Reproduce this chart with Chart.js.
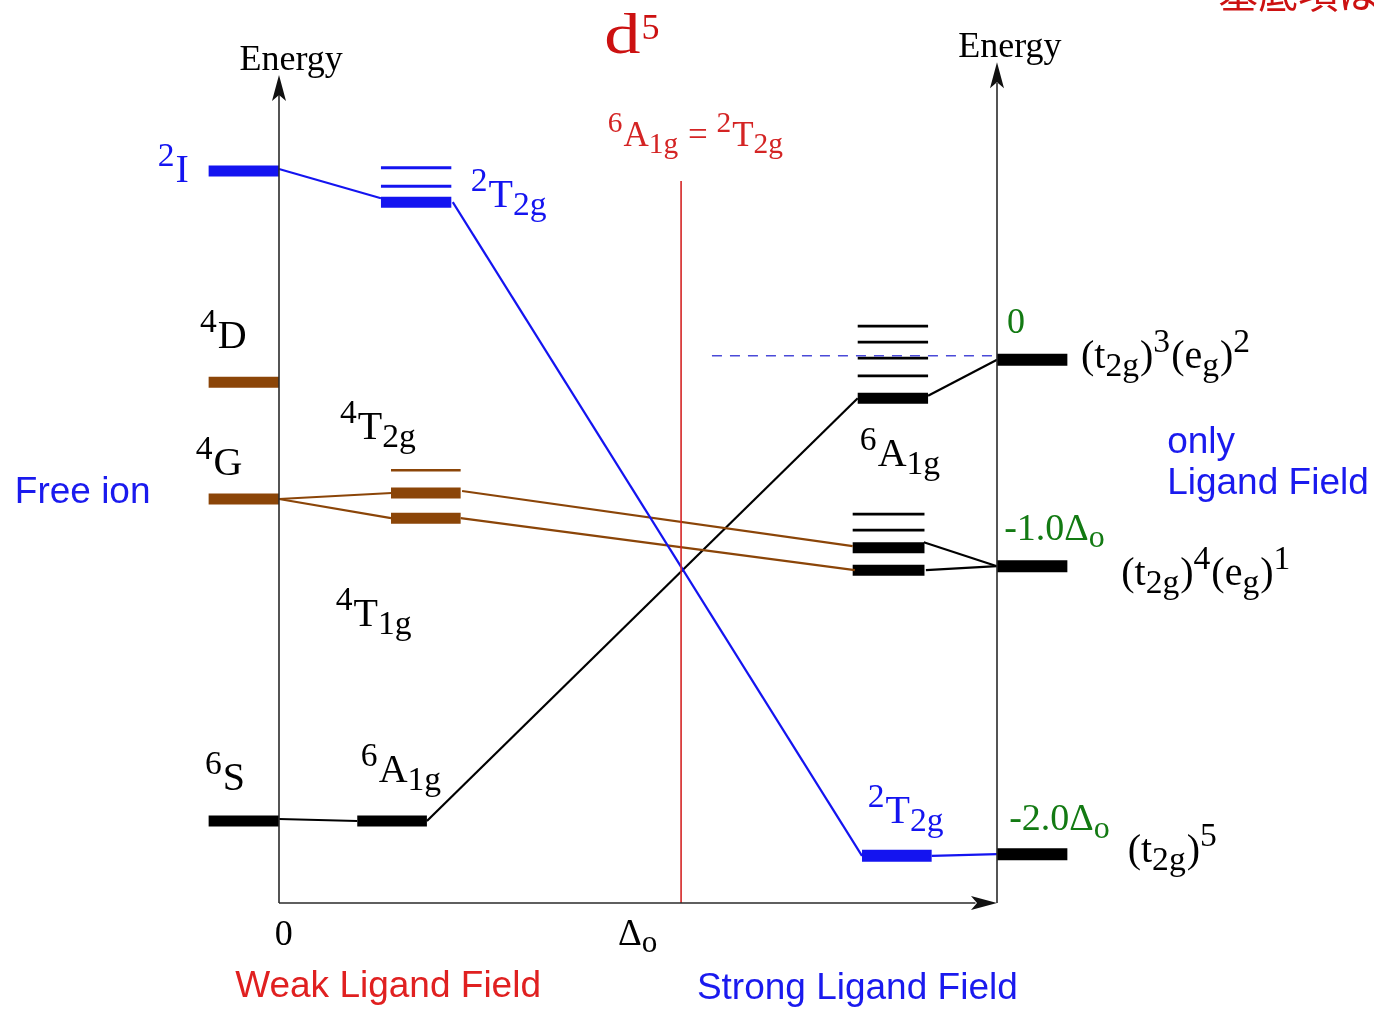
<!DOCTYPE html>
<html>
<head>
<meta charset="utf-8">
<script src="https://cdn.jsdelivr.net/npm/chart.js@4.4.0/dist/chart.umd.min.js"></script>
<style>
  html, body { margin: 0; padding: 0; background: #fff; }
  #wrap { width: 1374px; height: 1009px; }
</style>
</head>
<body>
<div id="wrap"><canvas id="diagram"></canvas></div>
<script>
// x = ligand field strength (0 = free ion axis, 100 = strong field limit axis)
// y = energy, arbitrary units

// free ion terms (left of the x = 0 axis)
const freeIonTerms  = ['2I', '4D', '4G', '6S'];
const freeIonEnergy = [91.5, 65.1, 50.5, 10.25];
const freeIonX      = [-9.8, 0];

// weak field states
const weakDoubletE = [91.9, 89.6, 87.6];   // 2T2g, last one is traced
const weakDoubletX = [14.2, 24.0];
const weakQuartetE = [54.1, 51.25, 48.1];  // 4T2g / 4T1g
const weakQuartetX = [15.6, 25.3];
const weakSextetE  = [10.25];              // 6A1g
const weakSextetX  = [10.9, 20.6];

// strong field states
const strongUpperE = [72.1, 70.1, 68.1, 65.9, 63.1]; // last one = 6A1g
const strongUpperX = [80.6, 90.4];
const strongMidE   = [48.6, 46.6, 44.4, 41.6];
const strongMidX   = [79.9, 89.9];
const strongLowE   = [5.9];                           // 2T2g
const strongLowX   = [81.2, 90.9];

// strong field limit configurations (right axis)
const configLabels = ['(t2g)3(eg)2', '(t2g)4(eg)1', '(t2g)5'];
const configEnergy = [67.9, 42.1, 6.1];
const configDelta  = ['0', '-1.0Δo', '-2.0Δo'];
const configX      = [100, 109.8];

// correlation lines [x0, E0, x1, E1]
const blueLinks  = [[0, 91.75, 14.2, 88.1], [24.2, 87.6, 81.2, 5.9], [90.9, 5.9, 100, 6.1]];
const brownLinks = [[0, 50.5, 15.7, 51.25], [0, 50.5, 15.6, 48.1], [25.5, 51.5, 79.9, 44.6], [25.3, 48.1, 80.2, 41.6]];
const blackLinks = [[0, 10.5, 10.9, 10.25], [20.6, 10.25, 80.6, 63.1], [90.4, 63.4, 100, 67.9],
                    [89.8, 45.1, 100, 42.1], [90.1, 41.6, 100, 42.1]];
const crossingX  = 56;      // 6A1g = 2T2g
const crossingTop = 90.25;
const zeroDashX  = [60.3, 100];
const zeroDashE  = 68.4;

const BLUE = '#1414f0', BROWN = '#8b4508', BLACK = '#000000', RED = '#d42424', GREEN = '#137a13', AXIS = '#2a2a2a';

const datasets = [];
function seg(x0, e0, x1, e1, color, w, dash) {
  datasets.push({
    data: [{x: x0, y: e0}, {x: x1, y: e1}],
    borderColor: color, borderWidth: w, borderDash: dash || [],
    borderCapStyle: 'butt', pointRadius: 0, fill: false, tension: 0
  });
}
function levels(xr, es, color, mainIdx, thick, thin) {
  es.forEach((e, i) => seg(xr[0], e, xr[1], e, color, mainIdx.includes(i) ? thick : thin));
}

// axes
seg(0, 0, 0, 101, AXIS, 1.6);
seg(100, 0, 100, 102.5, AXIS, 1.6);
seg(0, 0, 97, 0, AXIS, 1.6);
// crossing line + zero reference
seg(crossingX, 0, crossingX, crossingTop, RED, 1.6);
seg(zeroDashX[0], zeroDashE, zeroDashX[1], zeroDashE, '#4a4ad8', 1.5, [10, 8]);

// links
blueLinks.forEach(l => seg(l[0], l[1], l[2], l[3], BLUE, 2.2));
brownLinks.forEach(l => seg(l[0], l[1], l[2], l[3], BROWN, 2.2));
blackLinks.forEach(l => seg(l[0], l[1], l[2], l[3], BLACK, 2.2));

// level bars
freeIonEnergy.forEach((e, i) => seg(freeIonX[0], e, freeIonX[1], e, i === 0 ? BLUE : (i === 3 ? BLACK : BROWN), 11));
levels(weakDoubletX, weakDoubletE, BLUE, [2], 11, 3);
levels(weakQuartetX, weakQuartetE, BROWN, [1, 2], 11, 2.5);
levels(weakSextetX, weakSextetE, BLACK, [0], 11, 3);
levels(strongUpperX, strongUpperE, BLACK, [4], 11, 2.8);
levels(strongMidX, strongMidE, BLACK, [2, 3], 11, 2.8);
levels(strongLowX, strongLowE, BLUE, [0], 12, 3);
levels(configX, configEnergy, BLACK, [0, 1, 2], 12, 3);

// text annotations: {^sup} {_sub}
const SERIF = '"Liberation Serif", "Times New Roman", serif';
const SANS = '"Liberation Sans", Arial, sans-serif';
const labels = [
  {t: '{^2}I', x: -16.9, y: 90.1, c: BLUE},
  {t: '{^2}T{_2g}', x: 26.7, y: 87.0, c: BLUE},
  {t: '{^4}D', x: -11.0, y: 69.4, c: BLACK},
  {t: '{^4}G', x: -11.6, y: 53.5, c: BLACK},
  {t: '{^4}T{_2g}', x: 8.5, y: 58.0, c: BLACK},
  {t: '{^4}T{_1g}', x: 7.9, y: 34.6, c: BLACK},
  {t: '{^6}S', x: -10.3, y: 14.1, c: BLACK},
  {t: '{^6}A{_1g}', x: 11.4, y: 15.1, c: BLACK},
  {t: '{^6}A{_1g}', x: 80.9, y: 54.6, c: BLACK},
  {t: '{^2}T{_2g}', x: 82.0, y: 10.0, c: BLUE},
  {t: '(t{_2g}){^3}(e{_g}){^2}', x: 111.7, y: 66.9, c: BLACK},
  {t: '(t{_2g}){^4}(e{_g}){^1}', x: 117.3, y: 39.75, c: BLACK},
  {t: '(t{_2g}){^5}', x: 118.2, y: 5.1, c: BLACK},
  {t: configDelta[0], x: 101.4, y: 71.25, c: GREEN, s: 36},
  {t: '-1.0Δ{_o}', x: 101.0, y: 45.4, c: GREEN, s: 38},
  {t: '-2.0Δ{_o}', x: 101.7, y: 9.1, c: GREEN, s: 38},
  {t: '0', x: -0.6, y: -5.25, c: BLACK, s: 36},
  {t: 'Δ{_o}', x: 47.2, y: -5.25, c: BLACK, s: 37},
  {t: '{^6}A{_1g} = {^2}T{_2g}', x: 45.8, y: 94.6, c: RED, s: 35},
  {t: 'Energy', x: 1.7, y: 104.1, c: BLACK, s: 36, align: 'center'},
  {t: 'Energy', x: 101.8, y: 105.75, c: BLACK, s: 36, align: 'center'}
];
const sansLabels = [
  {t: 'Free ion', x: -36.8, y: 51.25, c: '#1a1aee'},
  {t: 'only', x: 123.7, y: 57.5, c: '#1a1aee'},
  {t: 'Ligand Field', x: 123.7, y: 52.4, c: '#1a1aee'},
  {t: 'Weak Ligand Field', x: -6.1, y: -10.5, c: '#e02020'},
  {t: 'Strong Ligand Field', x: 58.2, y: -10.75, c: '#1a1aee'}
];

function parts(str) {
  const out = [];
  const re = /\{([\^_])([^}]*)\}|([^{]+)/g;
  let m;
  while ((m = re.exec(str))) {
    if (m[3]) out.push([m[3], 'n']);
    else out.push([m[2], m[1] === '^' ? 'u' : 'd']);
  }
  return out;
}
function drawRich(ctx, str, px, py, size, color, align) {
  const ps = parts(str);
  const small = size * 0.84;
  const fontOf = k => (k === 'n' ? size : small) + 'px ' + SERIF;
  let w = 0;
  ps.forEach(p => { ctx.font = fontOf(p[1]); w += ctx.measureText(p[0]).width + (p[1] === 'n' ? 0 : 1); });
  let x = align === 'center' ? px - w / 2 : px;
  ctx.fillStyle = color;
  ctx.textBaseline = 'alphabetic';
  ctx.textAlign = 'left';
  ps.forEach(p => {
    ctx.font = fontOf(p[1]);
    const dy = p[1] === 'u' ? -size * 0.4 : (p[1] === 'd' ? size * 0.2 : 0);
    ctx.fillText(p[0], x, py + dy);
    x += ctx.measureText(p[0]).width + (p[1] === 'n' ? 0 : 1);
  });
}
function arrow(ctx, tx, ty, dir) {
  const L = 26, H = 7, N = 20;
  ctx.save();
  ctx.translate(tx, ty);
  ctx.rotate(dir);
  ctx.beginPath();
  ctx.moveTo(0, 0);
  ctx.lineTo(-L, -H);
  ctx.lineTo(-N, 0);
  ctx.lineTo(-L, H);
  ctx.closePath();
  ctx.fillStyle = '#111';
  ctx.fill();
  ctx.restore();
}

const annotate = {
  id: 'annotate',
  afterDatasetsDraw(chart) {
    const ctx = chart.ctx, xs = chart.scales.x, ys = chart.scales.y;
    const X = v => xs.getPixelForValue(v), Y = v => ys.getPixelForValue(v);
    arrow(ctx, X(0), Y(103.5), -Math.PI / 2);
    arrow(ctx, X(100), Y(105.1), -Math.PI / 2);
    arrow(ctx, X(100), Y(0), 0);
    labels.forEach(l => drawRich(ctx, l.t, X(l.x), Y(l.y), l.s || 40, l.c, l.align));
    // d5 title
    ctx.save();
    ctx.fillStyle = '#cc1111';
    ctx.textAlign = 'left';
    ctx.textBaseline = 'alphabetic';
    ctx.translate(X(45.3), Y(106.25));
    ctx.scale(1.25, 1);
    ctx.font = '58px ' + SERIF;
    ctx.fillText('d', 0, 0);
    const dw = ctx.measureText('d').width;
    ctx.restore();
    ctx.fillStyle = '#cc1111';
    ctx.font = '36px ' + SERIF;
    ctx.fillText('5', X(45.3) + dw * 1.25 + 1, Y(108.0));
    sansLabels.forEach(l => {
      ctx.font = '37px ' + SANS;
      ctx.fillStyle = l.c;
      ctx.textBaseline = 'middle';
      ctx.fillText(l.t, X(l.x), Y(l.y));
    });
    ctx.font = '40px "Noto Sans CJK JP", sans-serif';
    ctx.fillStyle = '#cc1111';
    ctx.textBaseline = 'alphabetic';
    ctx.fillText('基底項は', X(130.8), Y(111.9));
  }
};

new Chart(document.getElementById('diagram'), {
  type: 'line',
  data: { datasets },
  options: {
    responsive: true,
    maintainAspectRatio: false,
    animation: false,
    layout: { padding: 0 },
    plugins: { legend: { display: false }, tooltip: { enabled: false } },
    scales: {
      x: { type: 'linear', display: false, min: -38.858, max: 152.507 },
      y: { type: 'linear', display: false, min: -13.25, max: 112.875 }
    }
  },
  plugins: [annotate]
});
</script>
</body>
</html>
